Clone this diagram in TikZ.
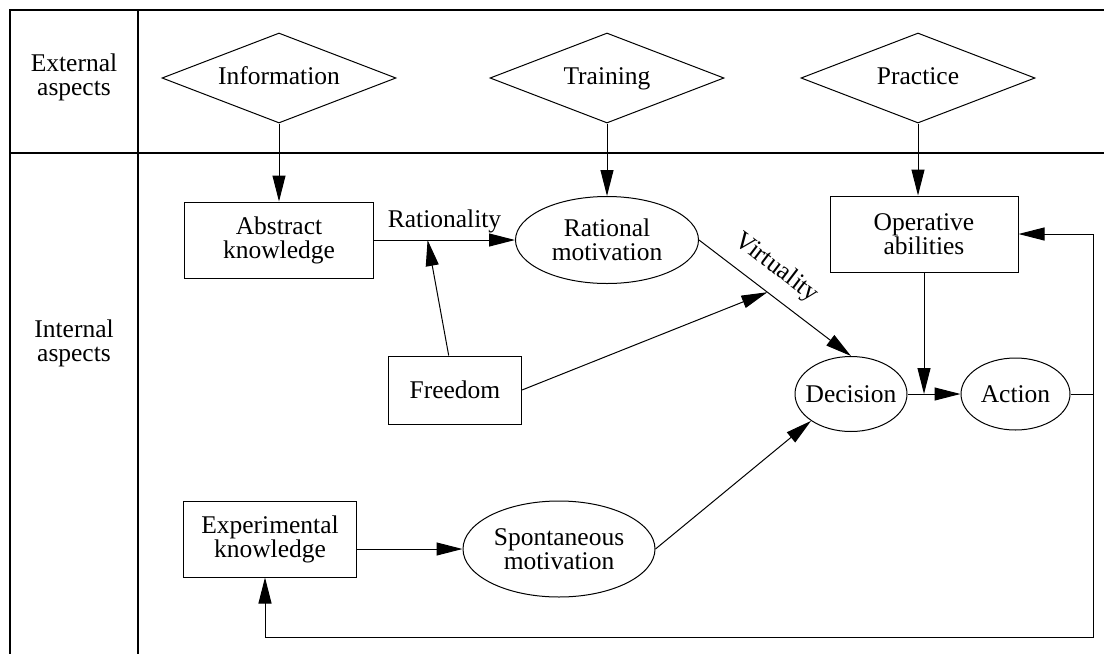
\documentclass[tikz,border=0pt]{standalone}
\usepackage{fontspec}
\setmainfont{Liberation Serif}
\tikzstyle{extern}=[diamond,draw,inner sep=0pt,shape aspect=2.6,minimum width=117pt,minimum height=45pt,
text height=9pt,text depth=3pt]
\tikzstyle{block}=[rectangle,draw,align=center,inner sep=0pt]
\tikzstyle{oval}=[ellipse,draw,align=center,inner sep=0pt]
\tikzstyle{frame}=[line width=1.1pt]
\usetikzlibrary{arrows.meta,positioning,shapes}

\begin{document}
\begin{tikzpicture}[x=0.5pt,y=-0.5pt,line width=0.5pt,>={Triangle[length=13pt,width=6.5pt]},
    every node/.style={font=\fontsize{12.75pt}{12pt}\selectfont}]
            \useasboundingbox (0,0) rectangle (1104,654);

            % FRAME

            \draw[frame] (1104,10) -- (10,10) -- (10,654);
            \draw[frame] (138,10) -- (138,654);
            \draw[frame] (10,153) -- (1104,153);
            \node[align=center] (ext) at (74,77) {External\\aspects};
            \node[align=center] (int) at (74,343) {Internal\\aspects};

            % EXTERNAL PART

            \node[extern] (d1) at (279,78) {Information};
            \node[extern] (d2) at (607,78) {Training};
            \node[extern] (d3) at (918,78) {Practice};

            % INTERNAL PART

            \node[block,minimum width=94.5pt,minimum height=38pt] (b1) at (279,240) {Abstract\\knowledge};
            \node[oval,minimum width=91.5pt,minimum height=43.5pt] (e1) at (607,240) {Rational\\motivation};
            \node[block,minimum width=66.5pt,minimum height=34pt] (b2) at (455,390) {Freedom};
            \node[block,minimum width=94pt,minimum height=38pt] (b3) at (924,234) {Operative\\abilities};
            \node[oval,inner xsep=-5pt,minimum width=56pt,minimum height=37.5pt] (e2) at (851,394) {Decision};
            \node[oval,right=26.5pt of e2,minimum width=54.5pt,minimum height=36pt] (e3) {Action};
            \node[block,minimum width=86.5pt,minimum height=38pt] (b4) at (270,539) {Experimental\\knowledge};
            \node[oval,minimum width=96pt,minimum height=48pt] (e4) at (559,549) {Spontaneous\\motivation};

            \path[->] (d1) edge node {} (b1);
            \path[->] (d2) edge node {} (e1);
            \path[->] (d3.south) edge node {} (d3.south |- b3.north);

            \draw[->] (b1) -- node[above] {Rationality} coordinate[pos=0.38] (r) (e1);
            \draw[->] (b2) -- (r);
            \draw[->] (e1.east) -- node[sloped,above=3pt,pos=0.41] {Virtuality} coordinate[pos=0.45] (v) (e2.north);
            \draw[->] (b2.east) -- (v);
            \draw[->] (b4.east |- e4.west) -- (e4.west);
            \draw[->] (e4.east) -- (e2.south west);
            \draw[->] (e2) -- (e3);
            \draw[->] (b3.south) -- (b3.south |- e2.east);

            % Feedback PART

            \coordinate (c1) at (1093,234);
            \coordinate (c2) at (1093,637);
            \coordinate (c3) at (265,637);
            \draw (e3.east) -- (e3.east -| c1);
            \draw[->] (c1) -- (b3.east |- c1);
            \draw (c1) -- (c2) -- (c3);
            \draw[->] (c3) -- (c3 |- b4.south);

        \end{tikzpicture}
\end{document}
